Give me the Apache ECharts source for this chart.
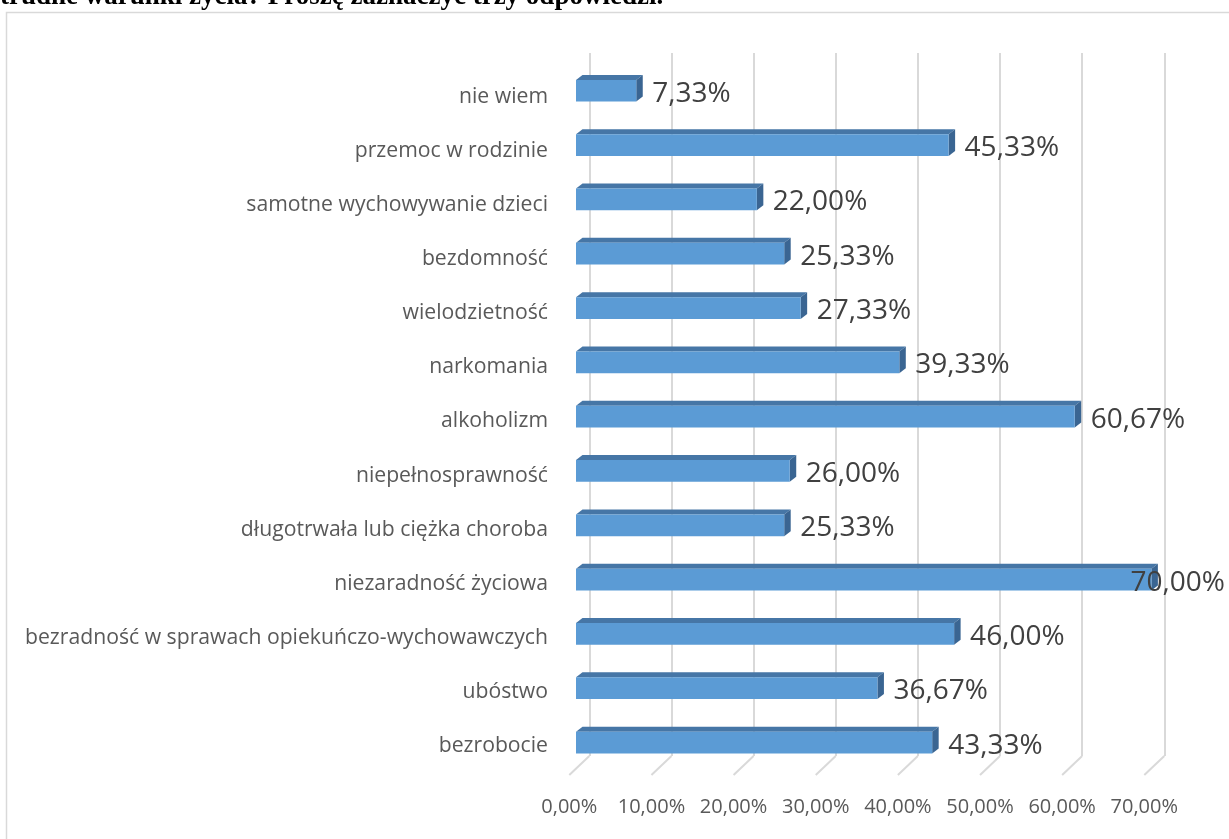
<!DOCTYPE html>
<html>
<head>
<meta charset="utf-8">
<script src="https://cdn.jsdelivr.net/npm/echarts@6/dist/echarts.min.js"></script>
<style>
    html, body { margin: 0; padding: 0; background: #fff; }
    #chartContainer { width: 1229px; height: 839px; }
</style>
</head>
<body>
<div id="chartContainer"></div>
<script>
!function () {

    'use strict';

    // kategorie od dołu do góry (jak w Excelu)
    var categories = [
        'bezrobocie',
        'ubóstwo',
        'bezradność w sprawach opiekuńczo-wychowawczych',
        'niezaradność życiowa',
        'długotrwała lub ciężka choroba',
        'niepełnosprawność',
        'alkoholizm',
        'narkomania',
        'wielodzietność',
        'bezdomność',
        'samotne wychowywanie dzieci',
        'przemoc w rodzinie',
        'nie wiem'
    ];
    var values = [43.33, 36.67, 46.00, 70.00, 25.33, 26.00, 60.67, 39.33, 27.33, 25.33, 22.00, 45.33, 7.33];
    var ticks = [0, 10, 20, 30, 40, 50, 60, 70];
    var title = 'trudne warunki życia? Proszę zaznaczyć trzy odpowiedzi.';

    var container = document.getElementById('chartContainer');
    var chart;

    function pct(v) {
        return v.toFixed(2).replace('.', ',') + '%';
    }

    // słupek "3D": przód, góra, bok + etykieta
    function renderBar(params, api) {
        var cat = api.value(1);
        var start = api.coord([0, cat]);
        var end = api.coord([api.value(0), cat]);
        var h = api.size([0, 1])[1] * 0.4;
        var dx = 6.5, dy = 5;
        var x0 = start[0], x1 = end[0];
        var yt = end[1] - h / 2, yb = end[1] + h / 2;
        var lx = x1 + 16, align = 'left';
        if (lx + 95 > api.getWidth() - 2) {
            lx = api.getWidth() - 4;
            align = 'right';
        }
        return {
            type: 'group',
            children: [
                {
                    type: 'polygon',
                    shape: { points: [[x0, yt], [x0 + dx, yt - dy], [x1 + dx, yt - dy], [x1, yt]] },
                    style: { fill: '#4676a6' }
                },
                {
                    type: 'polygon',
                    shape: { points: [[x1, yt], [x1 + dx, yt - dy], [x1 + dx, yb - dy], [x1, yb]] },
                    style: { fill: '#3a6592' }
                },
                {
                    type: 'rect',
                    shape: { x: x0, y: yt, width: x1 - x0, height: h },
                    style: { fill: '#5b9bd5' }
                },
                {
                    type: 'text',
                    style: {
                        text: pct(api.value(0)),
                        x: lx,
                        y: end[1] + 3,
                        align: align,
                        verticalAlign: 'middle',
                        fontFamily: 'Open Sans',
                        fontSize: 28,
                        fill: '#404040'
                    }
                }
            ]
        };
    }

    // ukośne linie siatki na "podłodze"
    function renderFloor(params, api) {
        var p = api.coord([api.value(0), 0]);
        return {
            type: 'line',
            shape: { x1: p[0], y1: p[1], x2: p[0] - 20, y2: p[1] + 19 },
            style: { stroke: '#d9d9d9', lineWidth: 2 }
        };
    }

    var option = {
        animation: false,
        graphic: [
            {
                type: 'rect',
                shape: { x: 6.5, y: 12.5, width: 1400, height: 1000 },
                style: { fill: 'none', stroke: '#d9d9d9', lineWidth: 1.5 },
                silent: true
            },
            {
                type: 'text',
                x: 0,
                y: 11,
                style: {
                    text: title,
                    fontFamily: 'Liberation Serif',
                    fontWeight: 'bold',
                    fontSize: 27,
                    verticalAlign: 'bottom',
                    fill: '#000'
                }
            }
        ],
        grid: [
            { left: 589.3, right: 64.7, top: 53, bottom: 83 },
            { left: 576, right: 77.6, top: 63.6, bottom: 69.3 },
            { left: 569.3, right: 84.7, top: 53, bottom: 64 },
            { left: 576, right: 77.6, top: 69.6, bottom: 65.8 }
        ],
        xAxis: [
            {
                gridIndex: 0, type: 'value', min: 0, max: 70, interval: 10,
                axisLine: { show: false }, axisTick: { show: false }, axisLabel: { show: false },
                splitLine: { show: true, lineStyle: { color: '#d9d9d9', width: 2 } }
            },
            { gridIndex: 1, type: 'value', min: 0, max: 70, show: false },
            {
                gridIndex: 2, type: 'value', min: 0, max: 70, interval: 10,
                axisLine: { show: false }, axisTick: { show: false }, splitLine: { show: false },
                axisLabel: {
                    margin: 22,
                    fontFamily: 'Open Sans',
                    fontSize: 20,
                    color: '#595959',
                    formatter: function (v) { return pct(v); }
                }
            },
            { gridIndex: 3, type: 'value', min: 0, max: 70, show: false }
        ],
        yAxis: [
            { gridIndex: 0, type: 'value', min: 0, max: 1, show: false },
            { gridIndex: 1, type: 'category', data: categories, show: false },
            { gridIndex: 2, type: 'value', min: 0, max: 1, show: false },
            {
                // etykiety kategorii (lekko niżej niż środek słupka, jak w oryginale)
                gridIndex: 3, type: 'category', data: categories,
                axisLine: { show: false }, axisTick: { show: false }, splitLine: { show: false },
                axisLabel: {
                    margin: 28,
                    fontFamily: 'Open Sans',
                    fontSize: 21.2,
                    color: '#595959'
                }
            }
        ],
        series: [
            {
                type: 'custom',
                xAxisIndex: 0,
                yAxisIndex: 0,
                renderItem: renderFloor,
                data: ticks.map(function (t) { return [t]; }),
                silent: true
            },
            {
                type: 'custom',
                xAxisIndex: 1,
                yAxisIndex: 1,
                renderItem: renderBar,
                data: values.map(function (v, i) { return [v, i]; }),
                encode: { x: 0, y: 1 }
            }
        ]
    };

    chart = echarts.init(container, null, { renderer: 'canvas' });
    chart.setOption(option);
}();
</script>
</body>
</html>
